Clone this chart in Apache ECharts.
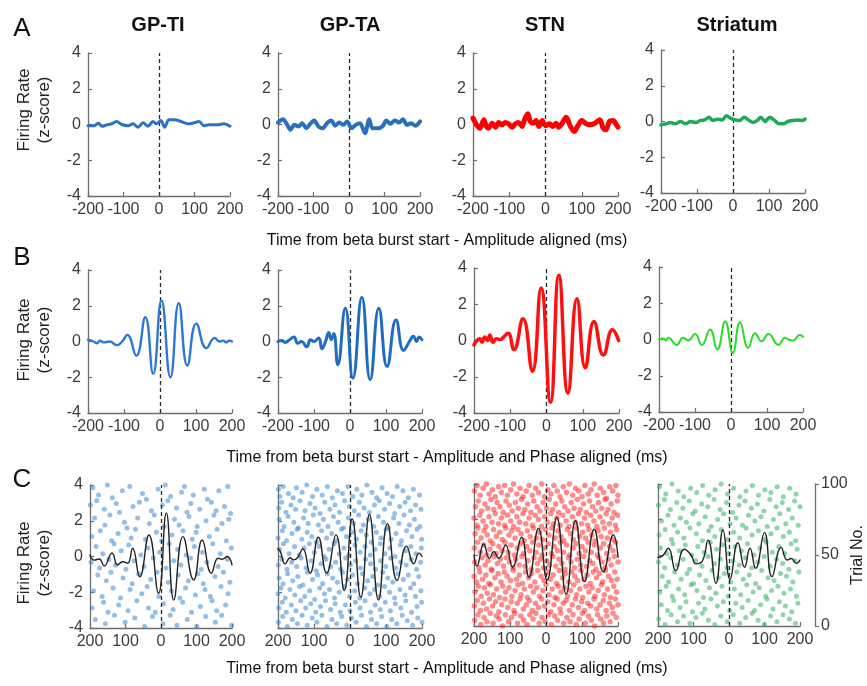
<!DOCTYPE html>
<html><head><meta charset="utf-8">
<script src="https://cdn.jsdelivr.net/npm/echarts@6/dist/echarts.min.js"></script>
<style>html,body{margin:0;padding:0;background:#fff}#c{width:867px;height:686px}</style>
</head><body><div id="c"></div>
<script>
// ---------- DATA ----------
const regions = ['GP-TI','GP-TA','STN','Striatum'];
const xTicks = [-200,-100,0,100,200];
const yTicks = [-4,-2,0,2,4];
const trialTicks = [0,50,100];
const rowLetters = ['A','B','C'];
const xNames = ['Time from beta burst start - Amplitude aligned (ms)',
                'Time from beta burst start - Amplitude and Phase aligned (ms)',
                'Time from beta burst start - Amplitude and Phase aligned (ms)'];

// Row A: amplitude aligned mean firing rate [ms, z]
const A_TI = [[-200,-0.07],[-184,-0.07],[-170,0.07],[-161,-0.1],[-147,-0.02],[-133,0.04],[-119,0.17],[-105,0],[-87,-0.07],[-73,0.04],[-59,-0.15],[-45,0.1],[-31,-0.1],[-17,0.17],[-7,0.04],[5,0.22],[16,-0.15],[28,0.26],[44,0.26],[62,0.17],[81,0.04],[95,0.07],[113,0.17],[127,-0.07],[141,-0.02],[165,-0.02],[183,0.04],[200,-0.1]];
const A_TA = [[-200,0.11],[-186,0.3],[-174,-0.02],[-165,-0.3],[-154,-0.02],[-142,-0.11],[-132,0.07],[-120,-0.21],[-109,0.04],[-98,0.22],[-86,-0.11],[-74,-0.21],[-62,0.07],[-50,0.22],[-39,-0.07],[-27,0.11],[-16,-0.02],[-5,0.17],[7,-0.21],[19,-0.02],[31,0.07],[45,-0.49],[57,0.3],[66,-0.21],[82,-0.21],[96,-0.07],[105,0.22],[117,0.04],[129,0.22],[141,0.11],[152,0.3],[163,-0.02],[175,0.07],[187,-0.07],[200,0.17]];
const A_STN = [[-200,0.36],[-190,-0.02],[-181,-0.21],[-170,0.26],[-164,-0.07],[-157,-0.21],[-147,0.07],[-138,-0.15],[-129,0.11],[-120,-0.02],[-111,0.11],[-102,0.04],[-92,-0.15],[-83,0.04],[-74,0.11],[-65,-0.11],[-58,0.26],[-49,0.6],[-42,0.17],[-33,0.07],[-26,0.22],[-18,-0.11],[-9,0.22],[0,-0.07],[11,0.04],[20,-0.11],[29,0.07],[36,-0.15],[45,0.04],[57,0.41],[68,-0.07],[79,-0.39],[88,-0.11],[100,0.22],[112,0.04],[123,-0.02],[136,0.07],[150,0.26],[159,-0.21],[167,-0.3],[176,0.17],[187,0.22],[194,0.04],[200,-0.15]];
const A_STR = [[-200,-0.19],[-186,-0.13],[-174,-0.06],[-160,-0.13],[-146,0],[-132,-0.13],[-118,0],[-104,-0.06],[-90,0.06],[-78,0.09],[-67,0.24],[-56,0.06],[-44,0.13],[-30,0.09],[-18,0.32],[-7,0.19],[6,0.09],[19,0.06],[31,0.24],[43,0.09],[56,-0.06],[68,0.06],[77,0.24],[89,0],[102,0.24],[114,0.09],[128,-0.13],[140,-0.13],[152,0],[166,0.06],[180,0.09],[192,0.06],[200,0.13]];

// Row B: amplitude + phase aligned
const B_TI = [[-200,0.1],[-185,0],[-175,-0.1],[-167,0.05],[-155,-0.05],[-140,0],[-120,-0.2],[-105,0],[-91,0.37],[-66,-0.8],[-41,1.36],[-19,-1.8],[4,2.29],[29,-2.0],[52,2.14],[76,-1.34],[101,1.0],[129,-0.37],[152,0.2],[165,0],[175,0.05],[185,-0.05],[192,0.05],[200,0]];
const B_TA = [[-200,0],[-190,0.05],[-180,-0.05],[-168,0.1],[-156,0.25],[-145,-0.1],[-135,0],[-120,-0.3],[-110,0.1],[-100,0],[-87,0.2],[-78,-0.4],[-68,0],[-59,0.5],[-52,0.1],[-45,0.45],[-34,-1.3],[-13,1.86],[8,-2.05],[33,2.47],[56,-2.14],[80,1.86],[103,-1.4],[128,1.2],[149,-0.5],[165,0],[176,0.3],[185,0],[192,0.25],[200,0.1]];
const B_STN = [[-200,-0.25],[-192,0],[-184,0.1],[-178,-0.1],[-170,0.2],[-163,0],[-156,0.3],[-148,-0.1],[-138,0.1],[-128,0.05],[-118,0.2],[-106,0.4],[-90,-0.5],[-65,1.2],[-39,-1.7],[-15,2.9],[11,-3.4],[34,3.6],[59,-2.9],[84,2.3],[107,-1.5],[131,1.05],[157,-0.8],[182,0.6],[199,0]];
const B_STR = [[-200,0],[-188,0.05],[-180,-0.05],[-174,0.1],[-151,-0.3],[-133,0.1],[-119,-0.05],[-100,0.3],[-81,-0.3],[-58,0.55],[-38,-0.55],[-16,1.0],[5,-0.75],[25,0.95],[48,-0.45],[67,0.35],[85,-0.1],[104,0.3],[132,-0.3],[150,0.1],[160,0],[172,-0.05],[191,0.25],[200,0.15]];

// Row C: example LFP-locked traces (z-score)
const C_TI = [[-200,0.08],[-188,-0.2],[-174,-0.14],[-160,-0.53],[-138,0.2],[-122,-0.47],[-108,-0.29],[-94,-0.38],[-80,0.46],[-60,-1.13],[-34,1.2],[-7,-2.06],[15,2.44],[36,-2.43],[62,1.11],[92,-1.31],[116,0.92],[142,-0.94],[161,-0.1],[172,-0.16],[186,0],[200,-0.47]];
const C_TA = [[-200,0.43],[-194,0.3],[-180,-0.41],[-166,-0.07],[-157,-0.19],[-146,-0.07],[-131,0.43],[-111,-0.93],[-88,1.08],[-65,-0.93],[-39,1.21],[-16,-1.9],[6,2.1],[30,-2.28],[54,2.35],[79,-2.43],[104,1.83],[131,-1.34],[157,0.58],[177,-0.41],[192,0.19],[200,0]];
const C_STN = [[-200,0],[-192,-0.62],[-173,0.62],[-157,-0.19],[-145,0.19],[-131,-0.19],[-112,0.56],[-93,-0.69],[-68,1.0],[-47,-1.26],[-21,1.5],[3,-1.41],[30,2.12],[56,-2.2],[82,1.93],[107,-1.5],[134,1.45],[159,-0.94],[187,1.13],[200,-0.13]];
const C_STR = [[-200,-0.13],[-187,-0.05],[-171,0.38],[-150,-0.88],[-126,0.32],[-107,0],[-93,-0.5],[-75,-0.34],[-59,0.84],[-37,-1.6],[-17,1.41],[3,-1.37],[25,0.69],[44,-0.69],[59,0.38],[75,-0.75],[100,1.26],[121,-1.22],[147,0.43],[164,-0.28],[175,-0.2],[190,-0.47],[200,-0.28]];

// Row C raster spikes: flat [ms, trial, ms, trial, ...]
const SP_TI = [-192,98,-176,93,-151,100,-137,91,-109,96,-88,99,-52,94,-41,90,-8,97,12,100,27,92,58,95,66,99,91,93,122,97,131,90,163,96,188,99,
-199,86,-181,89,-160,83,-126,87,-117,81,-79,85,-61,88,-27,82,4,86,19,89,44,84,73,81,84,87,109,83,142,88,155,82,179,85,196,80,
-187,77,-158,72,-144,79,-103,74,-96,70,-66,77,-33,73,-19,79,9,71,38,76,51,72,79,78,102,71,127,75,149,79,172,73,191,76,
-195,64,-171,68,-139,61,-121,66,-84,63,-72,69,-44,62,-13,67,2,61,31,65,62,68,88,62,99,67,136,64,158,69,184,61,
-183,57,-164,52,-132,59,-112,54,-91,58,-57,51,-37,56,-4,53,23,59,47,55,71,51,94,57,117,53,146,59,167,52,198,56,
-197,46,-173,42,-147,48,-128,44,-99,41,-76,47,-48,43,-22,49,14,42,36,47,56,44,83,49,113,41,129,46,161,43,187,48,
-178,37,-154,33,-141,39,-107,35,-81,31,-63,38,-29,34,-11,39,21,32,49,37,77,33,104,38,119,31,152,36,176,39,194,32,
-190,26,-166,22,-135,28,-114,21,-87,27,-54,24,-39,29,-6,22,29,26,53,21,69,28,97,23,124,27,139,22,169,29,189,24,
-194,14,-162,18,-149,11,-119,16,-93,12,-68,19,-35,14,-16,11,7,17,34,13,61,18,86,11,111,15,144,19,157,12,182,16,
-185,6,-157,3,-131,9,-101,4,-74,7,-46,1,-24,8,6,3,26,9,45,2,74,6,101,1,126,8,153,4,171,9,199,2];

const SP_TA = [-199,97,-195,92,-186,99,-171,94,-158,91,-149,98,-133,95,-120,100,-104,92,-92,97,-77,93,-63,99,-49,91,-35,96,-21,94,-6,99,8,92,19,97,33,93,47,100,61,95,74,91,89,98,103,94,118,92,131,99,147,96,162,91,176,97,193,93,
-198,84,-190,88,-178,81,-164,86,-151,83,-139,89,-125,82,-111,87,-97,84,-83,80,-70,88,-56,83,-42,86,-29,81,-15,89,-2,85,12,82,26,88,39,84,54,81,68,86,81,89,96,83,110,87,124,80,138,85,153,88,168,82,182,86,197,83,
-197,76,-183,71,-172,78,-156,74,-143,70,-129,77,-116,73,-102,79,-88,72,-74,76,-61,71,-46,78,-33,74,-18,70,-4,77,10,73,24,79,37,72,51,76,66,71,79,78,93,74,107,70,121,77,136,73,150,79,165,72,179,76,194,71,
-200,63,-188,68,-176,61,-161,66,-147,69,-134,62,-119,67,-106,64,-93,60,-79,68,-65,63,-51,66,-38,61,-24,69,-10,64,5,67,18,62,31,68,45,65,59,60,73,67,86,63,100,69,114,62,128,66,143,61,157,68,172,64,186,69,199,62,
-196,55,-185,59,-169,52,-154,57,-141,51,-127,56,-113,59,-99,53,-85,57,-72,50,-58,55,-44,59,-30,52,-17,56,-3,51,14,58,28,53,42,57,56,51,70,55,84,59,97,52,111,56,125,50,140,58,154,54,169,57,183,52,198,56,
-199,44,-189,48,-175,41,-162,46,-148,43,-136,49,-122,42,-108,47,-94,40,-81,45,-67,48,-53,43,-40,46,-26,41,-12,49,1,44,16,47,29,42,43,48,57,45,71,41,85,47,99,43,113,49,127,42,141,46,156,44,170,48,185,41,196,46,
-197,35,-186,31,-173,38,-159,33,-145,36,-131,30,-118,39,-104,34,-90,37,-76,31,-63,38,-48,35,-35,32,-21,39,-7,34,7,37,21,31,35,38,49,33,63,36,77,30,91,39,105,35,119,32,133,38,148,34,162,37,177,31,191,36,
-200,24,-192,28,-180,21,-167,27,-153,23,-140,29,-126,22,-112,26,-98,20,-84,28,-71,24,-57,27,-43,21,-30,25,-16,29,-1,22,13,26,27,21,41,28,55,24,68,27,82,22,96,29,110,25,124,21,139,27,153,23,168,28,182,22,197,26,
-198,14,-188,18,-177,11,-163,16,-150,12,-137,19,-123,14,-109,17,-95,11,-82,15,-68,19,-54,13,-41,17,-27,11,-13,16,0,12,15,18,28,14,42,19,57,11,70,16,84,13,98,18,112,12,126,17,141,14,155,19,171,11,186,15,199,18,
-199,4,-187,8,-174,1,-160,6,-146,3,-133,9,-119,2,-105,7,-92,4,-78,9,-64,1,-50,6,-37,3,-23,8,-9,2,4,7,17,4,32,9,46,1,60,6,74,3,88,8,102,1,116,6,130,3,145,9,159,5,174,2,188,7,200,4];

const SP_STN = [-199,95,-191,99,-183,92,-175,97,-166,100,-158,93,-149,96,-141,91,-132,98,-124,94,-115,99,-107,92,-98,96,-90,100,-81,93,-72,97,-64,91,-55,95,-47,99,-38,92,-29,97,-21,94,-12,100,-4,91,5,96,14,93,22,99,31,95,39,91,48,98,57,94,65,100,74,92,82,97,91,95,100,91,108,99,117,93,125,96,134,100,142,92,151,97,160,94,168,90,177,98,185,95,194,99,200,92,
-196,84,-188,88,-179,81,-170,86,-162,83,-153,89,-145,82,-136,87,-128,84,-119,80,-111,88,-102,85,-94,81,-85,87,-77,83,-68,89,-59,82,-51,86,-42,80,-34,88,-25,84,-17,81,-8,87,1,83,9,89,18,82,27,86,35,80,44,88,52,84,61,81,70,87,78,83,87,89,95,82,104,86,112,80,121,88,129,84,138,81,146,87,155,83,164,89,172,82,181,86,189,80,198,88,
-200,76,-192,71,-184,78,-175,74,-167,70,-158,77,-150,73,-141,79,-132,72,-124,76,-115,71,-107,78,-98,74,-90,70,-81,77,-73,73,-64,79,-56,72,-47,76,-38,71,-30,78,-21,75,-13,70,-4,77,4,73,13,79,21,72,30,76,39,71,47,78,56,74,64,70,73,77,81,73,90,79,99,72,107,76,116,71,124,78,133,74,141,70,150,77,158,73,167,79,176,72,184,76,193,71,199,78,
-197,65,-189,69,-180,62,-172,67,-163,64,-155,60,-146,68,-138,63,-129,66,-121,61,-112,69,-103,64,-95,67,-86,62,-78,68,-69,65,-61,60,-52,67,-44,63,-35,69,-27,62,-18,66,-9,61,-1,68,8,64,16,69,25,62,33,67,42,63,50,60,59,68,68,65,76,61,85,69,93,63,102,66,110,62,119,68,127,64,136,60,145,67,153,63,162,69,170,62,179,66,187,61,196,68,
-199,55,-190,59,-182,52,-173,57,-165,50,-156,54,-148,58,-139,51,-131,56,-122,53,-114,59,-105,52,-97,57,-88,50,-80,55,-71,58,-62,51,-54,56,-45,53,-37,59,-28,52,-20,57,-11,50,-3,55,6,58,15,51,23,56,32,53,40,59,49,52,57,57,66,50,75,55,83,58,92,51,100,56,109,53,117,59,126,52,134,57,143,50,151,55,160,58,169,51,177,56,186,53,194,59,
-198,45,-186,41,-178,48,-169,43,-161,46,-152,40,-144,49,-135,44,-127,47,-118,42,-110,48,-101,45,-92,41,-84,47,-75,43,-67,49,-58,42,-50,46,-41,40,-33,48,-24,44,-16,47,-7,41,2,46,10,43,19,49,27,42,36,47,44,44,53,40,62,48,70,45,79,41,87,47,96,43,104,49,113,42,121,46,130,44,139,40,147,48,156,45,164,41,173,47,181,43,190,49,200,45,
-200,35,-193,31,-184,38,-176,33,-167,36,-159,30,-150,39,-142,34,-133,37,-125,31,-116,38,-108,35,-99,32,-91,39,-82,33,-74,36,-65,30,-57,38,-48,34,-40,37,-31,31,-23,39,-14,35,-6,32,3,38,12,33,20,36,29,30,37,39,46,34,54,37,63,31,71,38,80,35,88,32,97,39,105,33,114,36,123,30,131,38,140,34,148,37,157,31,165,39,174,35,182,32,191,38,198,33,
-197,24,-188,28,-180,21,-171,27,-163,23,-154,29,-146,22,-137,26,-129,20,-120,28,-112,24,-103,27,-95,21,-86,25,-78,29,-69,22,-60,26,-52,20,-43,28,-35,24,-26,27,-18,21,-9,25,0,29,8,22,17,26,25,20,34,28,42,24,51,27,60,21,68,25,77,29,85,22,94,26,102,20,111,28,119,24,128,27,136,21,145,25,154,29,162,22,171,26,179,20,188,28,196,24,
-199,14,-191,18,-182,11,-174,16,-165,12,-157,19,-148,14,-140,17,-131,10,-123,15,-114,19,-106,13,-97,17,-89,11,-80,16,-72,19,-63,12,-55,15,-46,18,-38,11,-29,16,-21,13,-12,19,-4,14,5,17,13,10,22,15,31,19,39,12,48,16,56,18,65,11,73,15,82,19,90,13,99,17,107,11,116,16,124,14,133,19,141,12,150,15,159,18,167,11,176,16,184,13,193,19,200,15,
-198,4,-189,8,-181,1,-172,6,-164,3,-155,9,-147,2,-138,7,-130,5,-121,0,-113,8,-104,3,-96,6,-87,9,-79,2,-70,7,-62,4,-53,1,-45,8,-36,5,-28,9,-19,2,-11,6,-2,3,7,8,15,1,24,7,32,4,41,9,49,2,58,6,67,3,75,8,84,1,92,5,101,9,109,2,118,7,126,4,135,0,143,8,152,5,160,2,169,7,178,3,186,9,195,6];

const SP_STR = [-196,98,-178,93,-161,100,-143,95,-127,91,-108,97,-91,94,-74,99,-57,92,-39,96,-22,100,-4,93,13,97,31,91,48,95,66,99,83,92,101,96,118,94,136,98,153,91,171,97,189,93,
-199,85,-182,89,-165,82,-147,87,-130,83,-112,88,-95,81,-77,86,-60,84,-42,89,-25,82,-7,87,10,80,28,85,45,88,63,83,80,86,98,81,115,89,133,84,150,87,168,82,185,88,200,84,
-190,74,-172,78,-155,71,-137,76,-120,73,-102,79,-85,72,-67,77,-50,70,-32,75,-15,79,3,72,20,76,38,71,55,78,73,74,90,77,108,70,125,75,143,79,160,72,178,76,195,71,
-197,64,-180,68,-162,61,-145,66,-127,62,-110,69,-92,65,-75,60,-57,67,-40,63,-22,68,-5,61,13,66,30,62,48,69,65,64,83,67,100,61,118,65,135,69,153,63,170,66,188,60,
-193,55,-175,51,-158,58,-140,53,-123,57,-105,50,-88,56,-70,52,-53,59,-35,54,-18,57,0,51,17,56,35,53,52,58,70,50,87,55,105,59,122,52,140,56,157,51,175,58,192,54,
-199,45,-181,41,-164,48,-146,43,-129,47,-111,40,-94,46,-76,42,-59,49,-41,44,-24,47,-6,41,11,46,29,43,46,48,64,41,81,45,99,49,116,42,134,47,151,44,169,40,186,46,
-188,35,-170,31,-153,38,-135,33,-118,37,-100,30,-83,36,-65,32,-48,39,-30,34,-13,37,5,31,22,38,40,33,57,36,75,30,92,39,110,34,127,32,145,37,162,35,180,31,197,38,
-195,24,-177,28,-160,21,-142,26,-125,22,-107,29,-90,25,-72,20,-55,27,-37,23,-20,28,-2,21,15,26,33,22,50,29,68,24,85,27,103,21,120,25,138,28,155,23,173,26,190,21,
-191,15,-173,11,-156,18,-138,13,-121,17,-103,10,-86,16,-68,12,-51,19,-33,14,-16,17,2,11,19,16,37,13,54,18,72,11,89,15,107,19,124,12,142,17,159,14,177,10,194,16,
-198,5,-180,1,-163,8,-145,3,-128,7,-110,2,-93,6,-75,9,-58,4,-40,1,-23,7,-5,3,12,8,30,2,47,6,65,9,82,4,100,1,117,7,135,3,152,8,170,5,187,2];

// ---------- LAYOUT / STYLE ----------
const FONT = '"Liberation Sans", Arial, sans-serif';
const AXC = '#6e6e6e';
const LABC = '#3c3c3c';
const layout = [
 {l:88,t:53,w:142,h:143},{l:278,t:53,w:142,h:143},{l:473,t:53,w:145,h:143},{l:661,t:50,w:144,h:143},
 {l:88,t:270,w:144,h:143},{l:278,t:270,w:144,h:143},{l:474,t:268,w:145,h:145},{l:659,t:267,w:144,h:145},
 {l:90,t:485,w:142,h:143},{l:278,t:485,w:144,h:143},{l:474,t:484,w:144,h:142},{l:658,t:484,w:142,h:142}
];
const rowData = [[A_TI,A_TA,A_STN,A_STR],[B_TI,B_TA,B_STN,B_STR],[C_TI,C_TA,C_STN,C_STR]];
const spikes = [SP_TI,SP_TA,SP_STN,SP_STR];
const lineStyles = [
  [{c:'#2b73c2',w:3},{c:'#2a6fbb',w:4},{c:'#ff0000',w:5},{c:'#1fa856',w:3.5}],
  [{c:'#2c78d2',w:2.4},{c:'#1f6cc0',w:3},{c:'#ff1010',w:3.5},{c:'#27dd27',w:2}],
  [{c:'#222',w:1.4},{c:'#222',w:1.4},{c:'#222',w:1.4},{c:'#222',w:1.4}]
];
const dotColors = ['rgba(58,134,208,0.68)','rgba(58,134,208,0.68)','rgba(255,20,20,0.62)','rgba(44,174,92,0.66)'];
const dotSizes = [5,5,5.5,5];

function pairs(flat){const o=[];for(let i=0;i<flat.length;i+=2)o.push([flat[i],flat[i+1]]);return o;}

const grids=[],xAxes=[],yAxes=[],series=[];
const axisLine={show:true,onZero:false,lineStyle:{color:AXC,width:1.3}};
const lab={color:LABC,fontSize:16,fontFamily:FONT};
for(let r=0;r<3;r++){
  for(let c=0;c<4;c++){
    const g=r*4+c, L=layout[g];
    grids.push({left:L.l,top:L.t,width:L.w,height:L.h,containLabel:false});
    xAxes.push({gridIndex:g,type:'value',min:xTicks[0],max:xTicks[xTicks.length-1],interval:100,
      axisLine:axisLine,axisTick:{show:true,inside:true,length:4,lineStyle:{color:AXC,width:1.2}},
      axisLabel:Object.assign({},lab,{margin:6,showMinLabel:true,showMaxLabel:true,
        formatter:(r===2?(v=>String(Math.abs(v))):(v=>String(v)))}),
      splitLine:{show:false}});
    yAxes.push({gridIndex:g,type:'value',min:yTicks[0],max:yTicks[yTicks.length-1],interval:2,
      axisLine:axisLine,axisTick:{show:true,inside:true,length:4,lineStyle:{color:AXC,width:1.2}},
      axisLabel:Object.assign({},lab,{show:!(r===2&&c>0),margin:7,showMinLabel:true,showMaxLabel:true}),
      splitLine:{show:false}});
    const st=lineStyles[r][c];
    series.push({type:'line',xAxisIndex:g,yAxisIndex:g,data:rowData[r][c],showSymbol:false,
      smooth:r===0?0.3:0.5,z:5,lineStyle:{color:st.c,width:st.w,join:'round',cap:'round'},
      silent:true,
      markLine:{silent:true,symbol:['none','none'],label:{show:false},
        lineStyle:{type:[4,3],color:'#2a2a2a',width:1.3},data:[{xAxis:0}]}});
  }
}
// trial axes for raster (row C)
for(let c=0;c<4;c++){
  const g=8+c;
  const idx=yAxes.length;
  yAxes.push({gridIndex:g,type:'value',min:trialTicks[0],max:trialTicks[2],interval:50,position:'right',
    show:c===3,offset:15,
    axisLine:{show:true,onZero:false,lineStyle:{color:AXC,width:1.3}},
    axisTick:{show:true,inside:false,length:4,lineStyle:{color:AXC,width:1.2}},
    axisLabel:Object.assign({},lab,{margin:6,showMinLabel:true,showMaxLabel:true}),
    splitLine:{show:false}});
  series.push({type:'scatter',xAxisIndex:g,yAxisIndex:idx,data:pairs(spikes[c]),symbolSize:dotSizes[c],z:2,silent:true,
    itemStyle:{color:dotColors[c]}});
}

// ---------- TEXT ----------
const graphic=[];
const titleX=[158,350,545,737];
regions.forEach((t,i)=>graphic.push({type:'text',x:titleX[i],y:25,style:{text:t,font:'bold 20px '+FONT,fill:'#111',textAlign:'center',textVerticalAlign:'middle',align:'center',verticalAlign:'middle'}}));
const letterY=[29,258,480];
rowLetters.forEach((t,i)=>graphic.push({type:'text',x:22,y:letterY[i],style:{text:t,font:'26px '+FONT,fill:'#111',textAlign:'center',textVerticalAlign:'middle',align:'center',verticalAlign:'middle'}}));
const ynameY=[110,340,563];
ynameY.forEach(y=>{
  graphic.push({type:'text',x:24,y:y,rotation:Math.PI/2,style:{text:'Firing Rate',font:'17px '+FONT,fill:'#222',textAlign:'center',textVerticalAlign:'middle',align:'center',verticalAlign:'middle'}});
  graphic.push({type:'text',x:44,y:y,rotation:Math.PI/2,style:{text:'(z-score)',font:'17px '+FONT,fill:'#222',textAlign:'center',textVerticalAlign:'middle',align:'center',verticalAlign:'middle'}});
});
const xnameY=[241,458,669];
xNames.forEach((t,i)=>graphic.push({type:'text',x:447,y:xnameY[i],style:{text:t,font:'16px '+FONT,fill:'#111',textAlign:'center',textVerticalAlign:'middle',align:'center',verticalAlign:'middle'}}));
graphic.push({type:'text',x:858,y:555,rotation:Math.PI/2,style:{text:'Trial No.',font:'16px '+FONT,fill:'#222',textAlign:'center',textVerticalAlign:'middle',align:'center',verticalAlign:'middle'}});

const chart=echarts.init(document.getElementById('c'),null,{renderer:'canvas'});
chart.setOption({animation:false,backgroundColor:'#fff',grid:grids,xAxis:xAxes,yAxis:yAxes,series:series,graphic:graphic});
</script></body></html>
